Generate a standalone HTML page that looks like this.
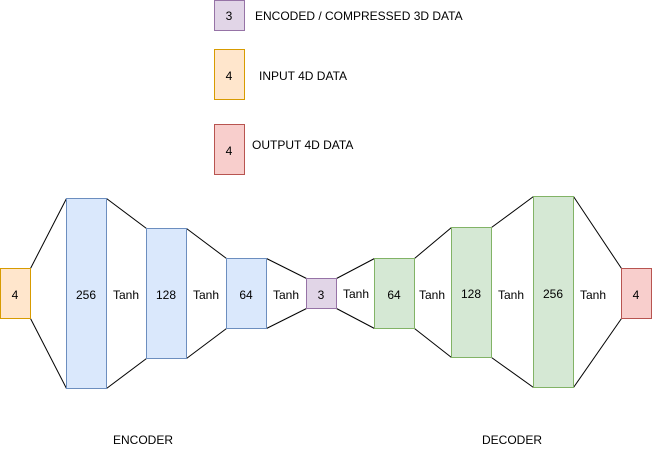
<!DOCTYPE html>
<html><head><meta charset="utf-8"><style>body{margin:0;background:#fff}</style></head><body>
<svg width="652" height="449" xmlns="http://www.w3.org/2000/svg" font-family="Liberation Sans, sans-serif" font-size="12" fill="#000">
<g stroke="#000" stroke-width="1" fill="none">
<line x1="30.5" y1="268.5" x2="66.5" y2="198.5"/><line x1="30.5" y1="318.5" x2="66.5" y2="388.5"/>
<line x1="106.5" y1="198.5" x2="146.5" y2="228.5"/><line x1="106.5" y1="388.5" x2="146.5" y2="358.5"/>
<line x1="186.5" y1="228.5" x2="226.5" y2="258.5"/><line x1="186.5" y1="358.5" x2="226.5" y2="328.5"/>
<line x1="266.5" y1="258.5" x2="306.5" y2="278.5"/><line x1="266.5" y1="328.5" x2="306.5" y2="308.5"/>
<line x1="336.5" y1="278.5" x2="374.5" y2="258.5"/><line x1="336.5" y1="308.5" x2="374.5" y2="328.5"/>
<line x1="414.5" y1="258.5" x2="451.5" y2="227.5"/><line x1="414.5" y1="328.5" x2="451.5" y2="357.5"/>
<line x1="491.5" y1="227.5" x2="533.5" y2="196.5"/><line x1="491.5" y1="357.5" x2="533.5" y2="387.5"/>
<line x1="573.5" y1="196.5" x2="621.5" y2="268.5"/><line x1="573.5" y1="387.5" x2="621.5" y2="318.5"/>
</g>
<g stroke-width="1">
<rect x="0.5" y="268.5" width="30" height="50" fill="#ffe6cc" stroke="#d79b00"/>
<rect x="66.5" y="198.5" width="40" height="190" fill="#dae8fc" stroke="#6c8ebf"/>
<rect x="146.5" y="228.5" width="40" height="130" fill="#dae8fc" stroke="#6c8ebf"/>
<rect x="226.5" y="258.5" width="40" height="70" fill="#dae8fc" stroke="#6c8ebf"/>
<rect x="306.5" y="278.5" width="30" height="30" fill="#e1d5e7" stroke="#9673a6"/>
<rect x="374.5" y="258.5" width="40" height="70" fill="#d5e8d4" stroke="#82b366"/>
<rect x="451.5" y="227.5" width="40" height="130" fill="#d5e8d4" stroke="#82b366"/>
<rect x="533.5" y="196.5" width="40" height="191" fill="#d5e8d4" stroke="#82b366"/>
<rect x="621.5" y="268.5" width="30" height="50" fill="#f8cecc" stroke="#b85450"/>
<rect x="214.5" y="0.5" width="30" height="30" fill="#e1d5e7" stroke="#9673a6"/>
<rect x="214.5" y="49.5" width="30" height="50" fill="#ffe6cc" stroke="#d79b00"/>
<rect x="214.5" y="124.5" width="30" height="50" fill="#f8cecc" stroke="#b85450"/>
</g>
<g text-anchor="middle">
<text x="15" y="299">4</text><text x="86" y="299">256</text><text x="126" y="299">Tanh</text>
<text x="166" y="299">128</text><text x="206" y="299">Tanh</text><text x="246" y="299">64</text>
<text x="286" y="299">Tanh</text><text x="321" y="299">3</text><text x="356" y="298">Tanh</text>
<text x="394" y="299">64</text><text x="432" y="299">Tanh</text><text x="471" y="298">128</text>
<text x="511" y="299">Tanh</text><text x="553" y="298">256</text><text x="593" y="299">Tanh</text>
<text x="636" y="299">4</text>
<text x="229" y="20">3</text><text x="229" y="80">4</text><text x="229" y="155">4</text>
</g>
<text x="255" y="20">ENCODED / COMPRESSED 3D DATA</text>
<text x="259" y="80">INPUT 4D DATA</text>
<text x="252" y="149">OUTPUT 4D DATA</text>
<text x="113" y="444">ENCODER</text>
<text x="482" y="444">DECODER</text>
</svg>
</body></html>
